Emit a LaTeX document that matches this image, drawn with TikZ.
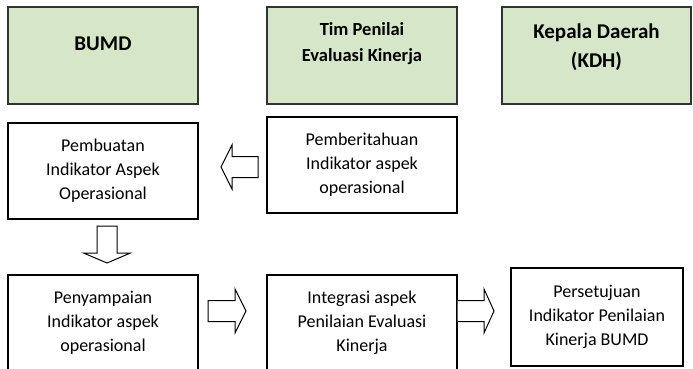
\documentclass[tikz,border=0pt]{standalone}
\usepackage{fontspec}
\setmainfont{Carlito}
\usepackage{tikz}
\usetikzlibrary{positioning}

\definecolor{hdrgreen}{RGB}{214,231,201}

\begin{document}
\begin{tikzpicture}[x=1pt,y=-1pt,
    hdrbox/.style={draw=black!80, line width=1.3pt, fill=hdrgreen,
      minimum width=190pt, minimum height=97pt, inner sep=0pt},
    stepbox/.style={draw=black, line width=1.2pt, fill=white, align=center,
      minimum width=190pt, minimum height=96pt, inner sep=0pt,
      font=\fontsize{18}{24}\selectfont},
    blockarrow/.style={draw=black, line width=1pt, fill=white, line join=miter}]
  \useasboundingbox (0,0) rectangle (693,369);
  \clip (0,0) rectangle (693,369);

  % header row
  \node[hdrbox] (bumd) at (103,55.5) {};
  \node[font=\bfseries\fontsize{21}{28}\selectfont] (bumdT) at ([yshift=11.5pt]bumd.center) {BUMD};
  \node[hdrbox] (tim) at (362,55.5) {};
  \node[font=\bfseries\fontsize{18.5}{26}\selectfont, align=center] (timT) at ([yshift=11.5pt]tim.center) {Tim Penilai\\Evaluasi Kinerja};
  \node[hdrbox, minimum width=189pt] (kdh) at (596.5,55.5) {};
  \node[font=\bfseries\fontsize{21}{29}\selectfont, align=center] (kdhT) at ([yshift=8pt]kdh.center) {Kepala Daerah\\(KDH)};

  % middle row
  \node[stepbox] (pembuatan) at (103,171) {Pembuatan\\Indikator Aspek\\Operasional};
  \node[stepbox] (pemberitahuan) at (362,165) {Pemberitahuan\\Indikator aspek\\operasional};

  % bottom row
  \node[stepbox] (penyampaian) at (103,323) {Penyampaian\\Indikator aspek\\operasional};
  \node[stepbox] (integrasi) at (362,323) {Integrasi aspek\\Penilaian Evaluasi\\Kinerja};
  \node[stepbox, minimum width=172pt, minimum height=98pt] (persetujuan) at (597,317) {Persetujuan\\Indikator Penilaian\\Kinerja BUMD};

  % block arrows
  \draw[blockarrow] (221,167) -- (232,145) -- (232,156.5) -- (258,156.5)
    -- (258,177.5) -- (232,177.5) -- (232,189) -- cycle;
  \draw[blockarrow] (97,226) -- (117,226) -- (117,253) -- (130.5,253)
    -- (107,263) -- (83.5,253) -- (97,253) -- cycle;
  \draw[blockarrow] (208,300.5) -- (235,300.5) -- (235,289) -- (246,311)
    -- (235,333) -- (235,321.5) -- (208,321.5) -- cycle;
  \draw[blockarrow] (integrasi.east |- 0,300.5) -- (484,300.5) -- (484,289) -- (494,311)
    -- (484,333) -- (484,321.5) -- (integrasi.east |- 0,321.5);
\end{tikzpicture}
\end{document}
